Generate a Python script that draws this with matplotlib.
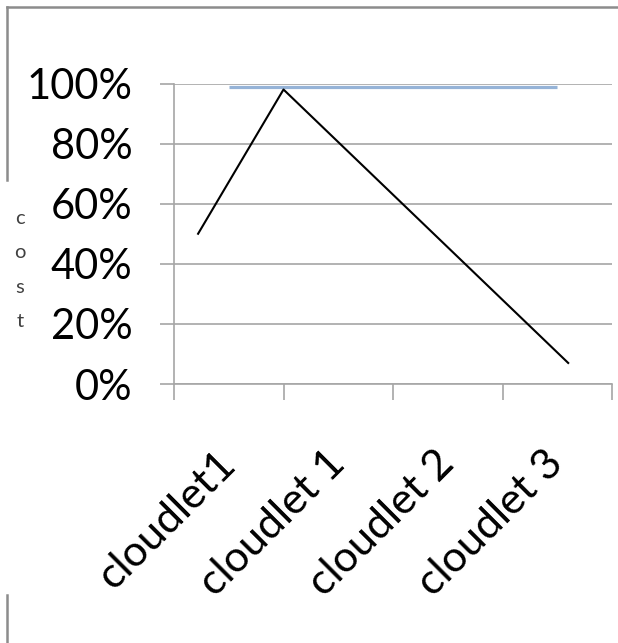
import matplotlib
matplotlib.use("Agg")
import matplotlib.pyplot as plt
from matplotlib.lines import Line2D
from matplotlib.ticker import PercentFormatter

# data
categories = ["cloudlet1", "cloudlet 1", "cloudlet 2", "cloudlet 3"]
flat_values = [0.99, 0.99, 0.99, 0.99]
# hand-drawn black line, x in category units
line_x = [-0.28, 0.5, 3.1]
line_values = [0.50, 0.98, 0.07]
y_ticks = [0, 0.2, 0.4, 0.6, 0.8, 1.0]

plt.rcParams['font.family'] = ['Lato', 'DejaVu Sans']

fig = plt.figure(figsize=(6.18, 6.43), dpi=100)
ax = fig.add_axes([174 / 618, 1 - 384 / 643, (612 - 174) / 618, (384 - 83.5) / 643])

grid_col = "#a6a6a6"
x = list(range(len(categories)))
ax.plot(x, flat_values, color="#95b3d7", lw=2.3, solid_capstyle="butt", zorder=3)
ax.plot(line_x, line_values, color="black", lw=1.5, zorder=4)

ax.set_xlim(-0.5, len(categories) - 0.5)
ax.set_ylim(0, 1)
ax.set_yticks(y_ticks)
ax.yaxis.set_major_formatter(PercentFormatter(1.0, decimals=0))
ax.grid(axis="y", color=grid_col, lw=1.2)
ax.set_axisbelow(True)

ax.set_xticks([i - 0.5 for i in range(len(categories) + 1)])
ax.set_xticklabels([])
ax.set_xticks(x, minor=True)
ax.set_xticklabels(categories, minor=True, rotation=45, ha="right", va="center",
                   rotation_mode="anchor", fontsize=31)
ax.tick_params(axis="x", which="minor", length=0, pad=53)
ax.tick_params(axis="x", which="major", length=11.5, width=1.2, color=grid_col, direction="out")
ax.tick_params(axis="y", length=10, width=1.2, color=grid_col, labelsize=30, pad=20)

for side in ["top", "right"]:
    ax.spines[side].set_visible(False)
for side in ["left", "bottom"]:
    ax.spines[side].set_color(grid_col)
    ax.spines[side].set_linewidth(1.2)

fig.text(20 / 618, 1 - 270 / 643, "c\no\ns\nt", ha="center", va="center",
         fontsize=14.5, linespacing=2.25, color="#404040")

# outer frame fragments
border = "#8c8c8c"
fig.add_artist(Line2D([7 / 618, 1], [1 - 7 / 643, 1 - 7 / 643], color=border, lw=1.8))
fig.add_artist(Line2D([7 / 618, 7 / 618], [1 - 7 / 643, 1 - 180 / 643], color=border, lw=1.8))
fig.add_artist(Line2D([7 / 618, 7 / 618], [1 - 595 / 643, 0], color=border, lw=1.8))

fig.savefig("out.png", dpi=100)
